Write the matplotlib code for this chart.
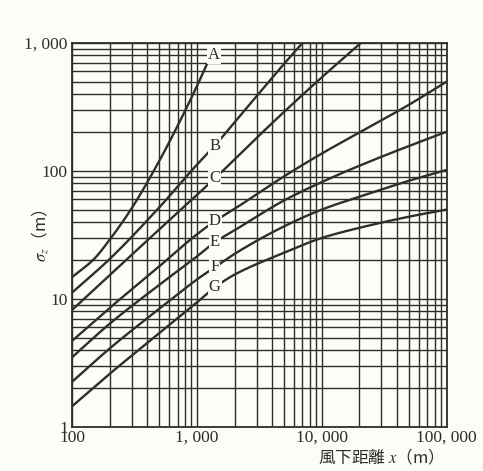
import numpy as np
import matplotlib
matplotlib.use("Agg")
import matplotlib.pyplot as plt
from matplotlib.ticker import FixedLocator, NullFormatter

# sigma_z (m), per stability class
x_a = [100, 150, 200, 300, 500, 700, 1000, 1200]
sz_a = [14.8, 20.5, 29, 51, 120, 225, 460, 680]

x_b = [100, 200, 500, 1000, 1400, 2000, 3840, 5000, 7000]
sz_b = [11.2, 20.5, 52, 112, 159, 240, 510, 690, 1000]

x_c = [100, 200, 500, 1000, 1400, 3840, 10000, 20500]
sz_c = [8.2, 15.3, 35, 65, 88, 228, 540, 1000]

x_dg = [100, 200, 500, 1000, 1400, 2000, 5000, 10000, 20000, 50000, 100000]
sz_d = [4.7, 8.5, 18, 32, 40.7, 50.6, 91, 137, 200, 330, 500]
sz_e = [3.5, 6.4, 12.9, 21.5, 27.9, 34.4, 59, 82, 110, 157, 203]
sz_f = [2.25, 4.1, 8.4, 14.2, 17.8, 22.5, 37, 50, 63, 84, 102]
sz_g = [1.45, 2.6, 5.4, 9.4, 12.4, 15.5, 23, 30, 36, 44, 50]

curves = [
    ("A", x_a, sz_a),
    ("B", x_b, sz_b),
    ("C", x_c, sz_c),
    ("D", x_dg, sz_d),
    ("E", x_dg, sz_e),
    ("F", x_dg, sz_f),
    ("G", x_dg, sz_g),
]
label_x = 1390


def pchip_loglog(xs, ys, n=400):
    # smooth monotone curve through the read points, done in log-log space
    x = np.log10(xs)
    y = np.log10(ys)
    h = np.diff(x)
    d = np.diff(y) / h
    m = np.zeros_like(x)
    m[0], m[-1] = d[0], d[-1]
    for k in range(1, len(x) - 1):
        if d[k - 1] * d[k] > 0:
            w1 = 2 * h[k] + h[k - 1]
            w2 = h[k] + 2 * h[k - 1]
            m[k] = (w1 + w2) / (w1 / d[k - 1] + w2 / d[k])
    xx = np.linspace(x[0], x[-1], n)
    idx = np.clip(np.searchsorted(x, xx) - 1, 0, len(x) - 2)
    t = (xx - x[idx]) / h[idx]
    h00 = 2 * t**3 - 3 * t**2 + 1
    h10 = t**3 - 2 * t**2 + t
    h01 = -2 * t**3 + 3 * t**2
    h11 = t**3 - t**2
    yy = h00 * y[idx] + h10 * h[idx] * m[idx] + h01 * y[idx + 1] + h11 * h[idx] * m[idx + 1]
    return 10**xx, 10**yy


plt.rcParams["mathtext.fontset"] = "stix"
ink = "#2e2e2b"
paper = "#fcfcf8"
serif = ["Liberation Serif", "DejaVu Serif"]
jp = ["Noto Sans CJK JP", "DejaVu Sans"]

fig = plt.figure(figsize=(4.83, 4.71), dpi=100)
fig.patch.set_facecolor(paper)
ax = fig.add_axes([0.149, 0.0934, 0.776, 0.8153])
ax.set_facecolor(paper)
ax.set_xscale("log")
ax.set_yscale("log")
ax.set_xlim(100, 100000)
ax.set_ylim(1, 1000)

# full log grid on both axes
minor_x = [m * 10 ** k for k in range(2, 5) for m in range(2, 10)]
minor_y = [m * 10 ** k for k in range(0, 3) for m in range(2, 10)]
ax.xaxis.set_major_locator(FixedLocator([100, 1000, 10000, 100000]))
ax.yaxis.set_major_locator(FixedLocator([1, 10, 100, 1000]))
ax.xaxis.set_minor_locator(FixedLocator(minor_x))
ax.yaxis.set_minor_locator(FixedLocator(minor_y))
ax.xaxis.set_minor_formatter(NullFormatter())
ax.yaxis.set_minor_formatter(NullFormatter())
ax.set_xticklabels(["100", "1, 000", "10, 000", "100, 000"], family=serif, fontsize=12.5)
ax.set_yticklabels(["1", "10", "100", "1, 000"], family=serif, fontsize=12.5)
ax.tick_params(which="both", length=0, colors=ink)
ax.tick_params(axis="x", pad=2)
ax.tick_params(axis="y", pad=3)
ax.grid(True, which="both", color=ink, lw=1.0)
for sp in ax.spines.values():
    sp.set_color(ink)
    sp.set_linewidth(1.3)

for name, xs, ys in curves:
    cx, cy = pchip_loglog(xs, ys)
    ax.plot(cx, cy, color=ink, lw=1.7, solid_capstyle="round", zorder=3)
    if name == "A":
        lx, ly = 1370, 800
    else:
        lx = label_x
        ly = 10 ** np.interp(np.log10(lx), np.log10(cx), np.log10(cy))
    ax.text(lx, ly, name, family=serif, fontsize=12, color=ink, ha="center", va="center",
            zorder=4, bbox=dict(boxstyle="square,pad=0.05", fc=paper, ec="none"))

fig.text(0.083, 0.5, r"$\sigma_z$" + "（m）", rotation=90, ha="center", va="center",
         fontsize=12, color=ink, family=jp)
fig.text(0.78, 0.03, "風下距離 $x$（m）", ha="center", va="center",
         fontsize=12, color=ink, family=jp)

fig.savefig("out.png", dpi=100, facecolor=fig.get_facecolor())
